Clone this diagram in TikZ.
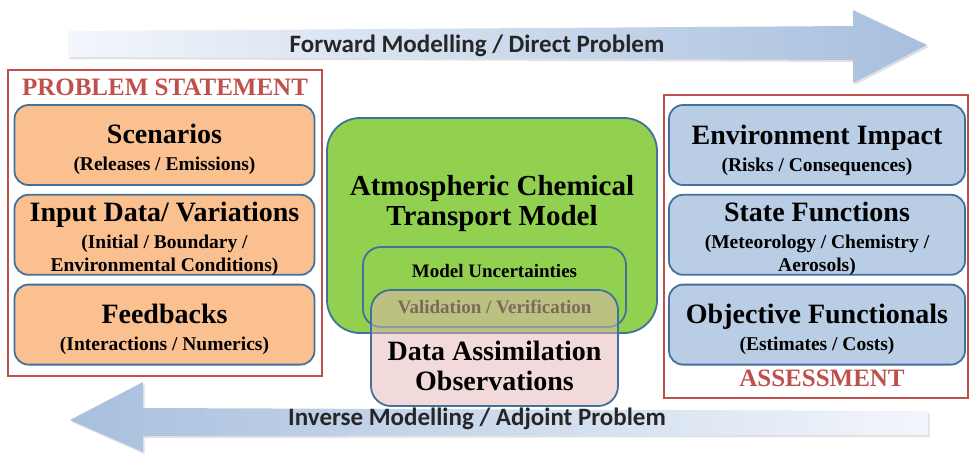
\documentclass[tikz,border=0pt]{standalone}
\usepackage{fontspec}
\setmainfont{Liberation Serif}
\newfontfamily\arrowfont{Carlito}
\usepackage{tikz}
\usetikzlibrary{positioning, calc}
\definecolor{framered}{HTML}{C0504D}
\definecolor{edgeblue}{HTML}{41719C}
\definecolor{peach}{HTML}{FAC090}
\definecolor{skyfill}{HTML}{B9CDE5}
\definecolor{modelgreen}{HTML}{92D050}
\definecolor{assimpink}{HTML}{E4B5B3}
\definecolor{arrowblue}{HTML}{A7BFDE}
\definecolor{arrowlight}{HTML}{F3F6FB}
\definecolor{validgrey}{HTML}{7A6A5A}
\newcommand{\boxhead}{\fontsize{28}{31}\selectfont}
\newcommand{\boxsub}{\fontsize{19.5}{23}\selectfont}

\begin{document}
\begin{tikzpicture}[
  x=1pt, y=-1pt,
  font=\bfseries,
  node distance=8pt,
  frame/.style={draw=framered, line width=1.8pt},
  framehead/.style={text=framered, font=\bfseries\fontsize{25}{28}\selectfont, inner sep=0pt},
  sidebox/.style={draw=edgeblue, line width=1.8pt, rounded corners=14pt,
                  minimum width=300pt, minimum height=80pt},
  boxtext/.style={align=center, font=\bfseries\boxsub, inner sep=0pt},
  problem/.style={sidebox, fill=peach},
  assess/.style={sidebox, fill=skyfill, minimum width=296pt},
  model/.style={draw=edgeblue, line width=1.8pt, rounded corners=33pt, fill=modelgreen},
  uncert/.style={draw=edgeblue, line width=1.8pt, rounded corners=18pt},
  assim/.style={draw=edgeblue, line width=1.8pt, rounded corners=20pt,
                fill=assimpink, fill opacity=0.5},
  arrowtext/.style={font=\arrowfont\bfseries\fontsize{25}{28}\selectfont, text=black!85, inner sep=0pt},
  shadowed/.style={fill=black, opacity=0.12}
]
\useasboundingbox (0,0) rectangle (969,453);

% Arrows: forward on top, inverse at the bottom
\fill[shadowed] (69.5,33) -- (854.5,28) -- (854.5,12) -- (929,47) -- (854.5,85) -- (854.5,62) -- (69.5,59) -- cycle;
\shade[left color=arrowlight, right color=arrowblue] (68,31) -- (853,26) -- (853,10) -- (927,45) -- (853,83) -- (853,60) -- (68,57) -- cycle;
\node[arrowtext] (fwdtext) at (477,46) {Forward Modelling / Direct Problem};

\fill[shadowed] (71.5,422) -- (144.5,384) -- (144.5,410) -- (929.5,413) -- (929.5,437) -- (144.5,438) -- (144.5,454) -- cycle;
\shade[left color=arrowblue, right color=arrowlight] (70,420) -- (143,382) -- (143,408) -- (928,411) -- (928,435) -- (143,436) -- (143,452) -- cycle;
\node[arrowtext] (invtext) at (477,419) {Inverse Modelling / Adjoint Problem};

% Problem statement (left)
\node[frame, minimum width=314pt, minimum height=306pt] (probframe) at (165,223) {};
\node[framehead] (probhead) at (165,87) {PROBLEM STATEMENT};
\node[problem] (scen) at (164.5,145) {};
\node[problem, below=of scen] (input) {};
\node[problem, below=of input] (feed) {};
\node[boxtext] (scentext) at ($(scen.center)+(0,4.5)$) {{\boxhead Scenarios}\\[4pt](Releases / Emissions)};
\node[boxtext] (inputtext) at ($(input.center)+(0,4.5)$) {{\boxhead Input Data/ Variations}\\[4pt](Initial / Boundary /\\Environmental Conditions)};
\node[boxtext] (feedtext) at ($(feed.center)+(0,4.5)$) {{\boxhead Feedbacks}\\[4pt](Interactions / Numerics)};

% Assessment (right)
\node[frame, minimum width=304pt, minimum height=303pt] (assframe) at (816,246.5) {};
\node[framehead] (asshead) at (822,378) {ASSESSMENT};
\node[assess] (env) at (817,145) {};
\node[assess, below=of env] (state) {};
\node[assess, below=of state] (objf) {};
\node[boxtext] (envtext) at ($(env.center)+(0,5)$) {{\boxhead Environment Impact}\\[4pt](Risks / Consequences)};
\node[boxtext] (statetext) at ($(state.center)+(0,4.5)$) {{\boxhead State Functions}\\[4pt](Meteorology / Chemistry /\\Aerosols)};
\node[boxtext] (objftext) at ($(objf.center)+(0,4.5)$) {{\boxhead Objective Functionals}\\[4pt](Estimates / Costs)};

% Centre: model, uncertainties and data assimilation
\node[model, minimum width=330pt, minimum height=215pt] (ctm) at (492,225.5) {};
\node[align=center, font=\bfseries\fontsize{29}{30}\selectfont] (ctmtext) at (492,203.5) {Atmospheric Chemical\\Transport Model};
\node[uncert, minimum width=263pt, minimum height=80pt] (unc) at (494.5,287) {};
\node[font=\bfseries\fontsize{19}{22}\selectfont] (unctext) at (494.5,271) {Model Uncertainties};
\node[assim, minimum width=247pt, minimum height=116pt] (da) at (494.5,348) {};
\node[text=validgrey, font=\bfseries\fontsize{19}{22}\selectfont] (valid) at (494.5,307) {Validation / Verification};
\node[align=center, font=\bfseries\fontsize{28}{30}\selectfont] (datext) at (494.5,366) {Data Assimilation\\Observations};

\end{tikzpicture}
\end{document}
